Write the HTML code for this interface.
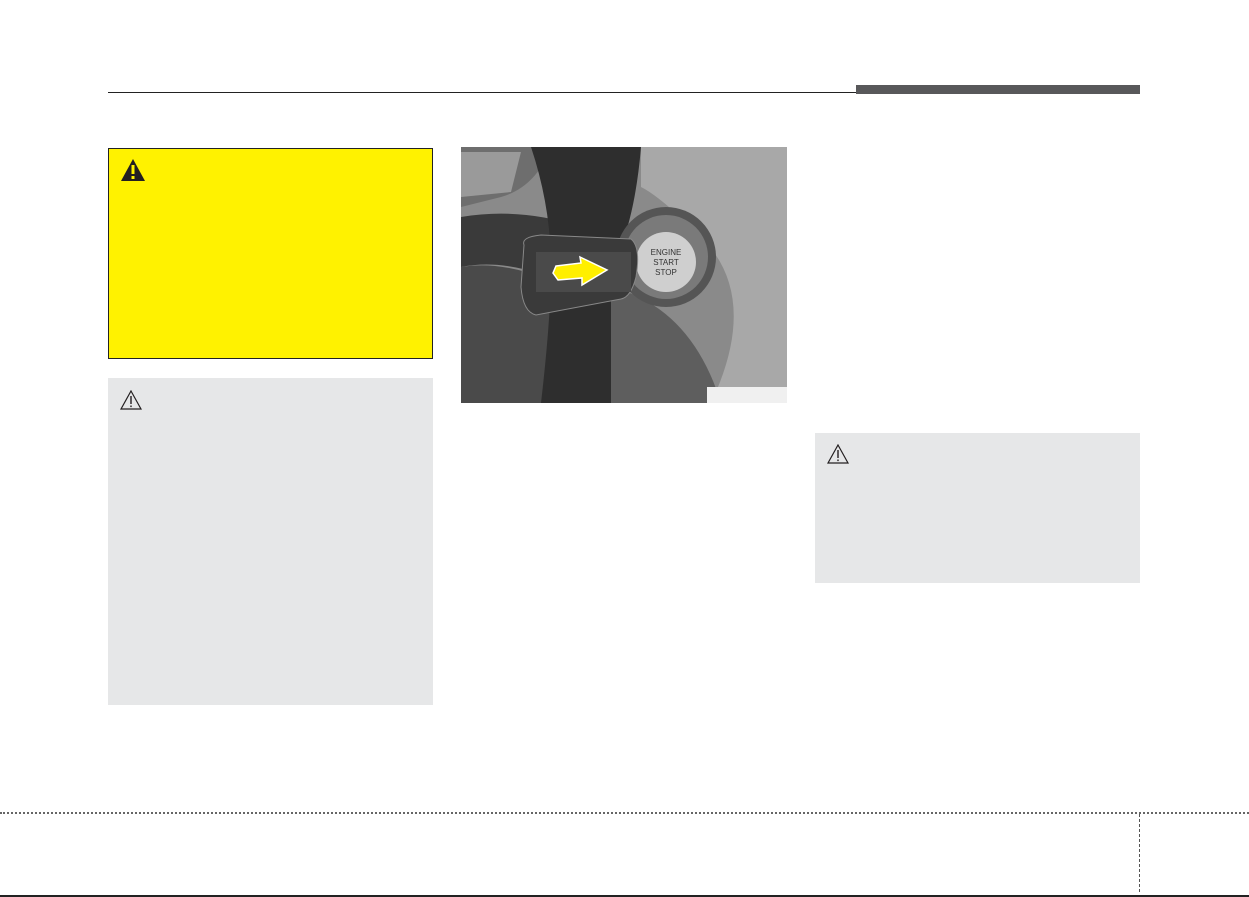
<!DOCTYPE html>
<html><head><meta charset="utf-8"><style>
body{margin:0;width:1249px;height:897px;background:#fff;position:relative;overflow:hidden;font-family:"Liberation Sans",sans-serif}
.a{position:absolute}
</style></head><body>
<div class="a" style="left:108px;top:92px;width:748px;height:1px;background:#222"></div>
<div class="a" style="left:856px;top:85px;width:284px;height:9px;background:#58585a"></div>
<div class="a" style="left:108px;top:148px;width:323px;height:209px;background:#fff200;border:1px solid #222"></div>
<svg class="a" style="left:120px;top:158px" width="26" height="24" viewBox="0 0 26 24"><polygon points="13,1 25,23 1,23" fill="#231f20"/><rect x="11.5" y="7" width="3" height="9" fill="#fff200"/><rect x="11.5" y="18" width="3" height="3" fill="#fff200"/></svg>
<div class="a" style="left:108px;top:378px;width:325px;height:327px;background:#e6e7e8"></div>
<svg class="a" style="left:120px;top:390px" width="22" height="20" viewBox="0 0 22 20"><polygon points="11,1 21,19 1,19" fill="none" stroke="#231f20" stroke-width="1.2"/><rect x="10.3" y="6" width="1.4" height="8" fill="#231f20"/><rect x="10.3" y="15.5" width="1.4" height="1.6" fill="#231f20"/></svg>
<div class="a" style="left:815px;top:433px;width:325px;height:150px;background:#e6e7e8"></div>
<svg class="a" style="left:827px;top:444px" width="22" height="20" viewBox="0 0 22 20"><polygon points="11,1 21,19 1,19" fill="none" stroke="#231f20" stroke-width="1.2"/><rect x="10.3" y="6" width="1.4" height="8" fill="#231f20"/><rect x="10.3" y="15.5" width="1.4" height="1.6" fill="#231f20"/></svg>
<svg class="a" style="left:461px;top:147px" width="326" height="256" viewBox="0 0 326 256">
<rect width="326" height="256" fill="#8a8a8a"/>
<path d="M0,0 H90 Q75,40 40,50 L0,60 Z" fill="#6e6e6e"/>
<path d="M0,5 H60 L50,45 L0,50Z" fill="#9a9a9a"/>
<path d="M180,0 H326 V256 H250 Q300,150 240,90 Q200,50 180,40Z" fill="#a8a8a8"/>
<path d="M0,70 Q60,60 120,80 L110,140 Q50,110 0,120Z" fill="#3a3a3a"/>
<path d="M0,120 Q60,110 140,160 L130,256 H0Z" fill="#4a4a4a"/>
<path d="M70,0 H180 Q175,60 160,100 L150,256 H80 Q90,170 90,120 Q90,60 70,0Z" fill="#2e2e2e"/>
<path d="M150,140 Q230,160 260,256 H150Z" fill="#5e5e5e"/>
<circle cx="205" cy="110" r="50" fill="#555"/>
<circle cx="205" cy="110" r="42" fill="#7a7a7a"/>
<circle cx="205" cy="115" r="30" fill="#cfcfcf"/>
<text x="205" y="108" font-size="8" text-anchor="middle" fill="#333" font-family="Liberation Sans">ENGINE</text>
<text x="205" y="118" font-size="8" text-anchor="middle" fill="#333" font-family="Liberation Sans">START</text>
<text x="205" y="128" font-size="8" text-anchor="middle" fill="#333" font-family="Liberation Sans">STOP</text>
<path d="M63,98 Q60,90 80,88 L170,92 Q180,100 175,130 Q170,150 160,152 L75,168 Q62,165 60,140Z" fill="#3a3a3a" stroke="#888" stroke-width="1"/>
<rect x="75" y="105" width="95" height="40" fill="#4a4a4a"/>
<polygon points="95,119 120,116 119,110 146,123 121,138 121,131 97,133 92,126" fill="#ffef00" stroke="#fff" stroke-width="1.5"/>
<rect x="246" y="240" width="80" height="16" fill="#f0f0f0"/>
</svg>
<div class="a" style="left:0;top:812px;width:1249px;height:0;border-top:2px dotted #666"></div>
<div class="a" style="left:1139px;top:814px;width:0;height:78px;border-left:1px dashed #555"></div>
<div class="a" style="left:0;top:895px;width:1249px;height:2px;background:#222"></div>
</body></html>
